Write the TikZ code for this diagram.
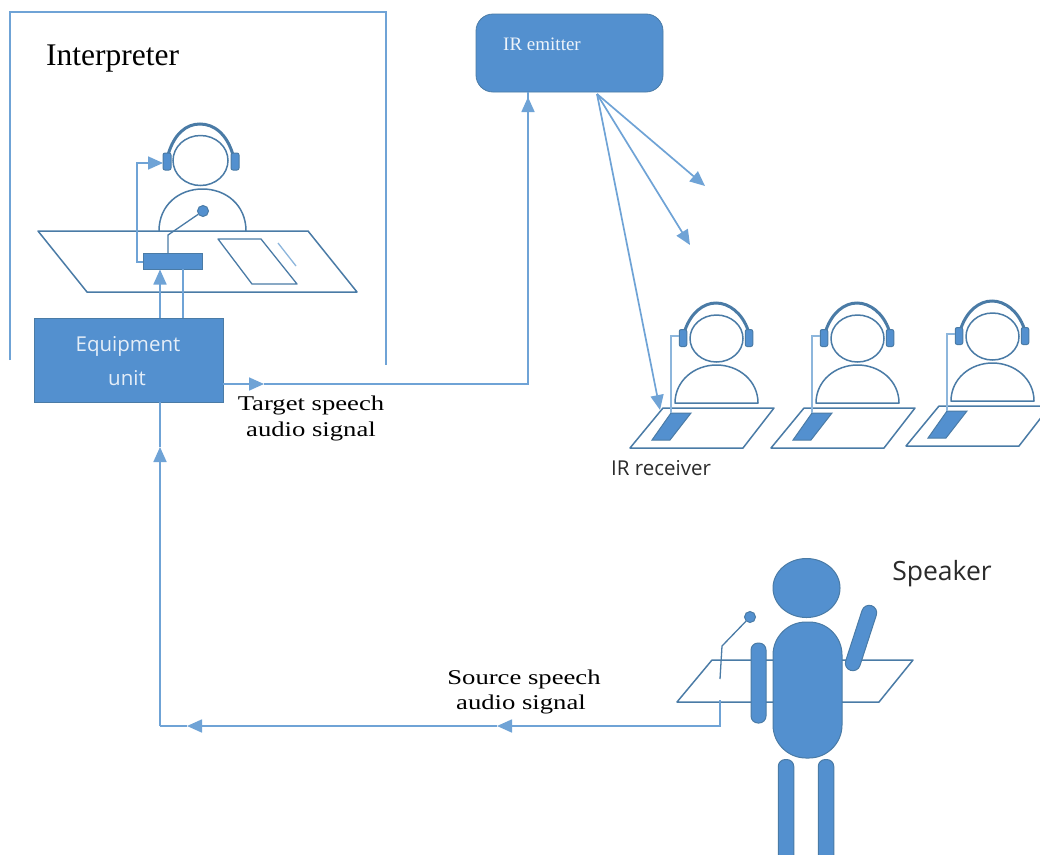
\documentclass[tikz,border=0pt]{standalone}
\usepackage{fontspec}
\setmainfont{Liberation Serif}
\newfontfamily\uifont{Open Sans}
\newfontfamily\widefont[FakeStretch=1.27]{Liberation Serif}
\usetikzlibrary{arrows.meta,calc,shapes.geometric}
\definecolor{bluefill}{HTML}{5390CF}
\definecolor{outl}{HTML}{4A7BA6}
\definecolor{wire}{HTML}{6FA3D6}
\definecolor{palewire}{HTML}{8DB6DC}
\definecolor{graytext}{HTML}{2B2B2B}
\tikzset{
  line/.style={draw=outl,line width=1.5pt,line join=round},
  wireline/.style={draw=wire,line width=1.7pt},
  palewireline/.style={draw=palewire,line width=2.2pt},
  tipped/.style={-{Triangle[length=15pt,width=13pt,fill=wire]}},
  solidblue/.style={fill=bluefill,draw=outl,line width=1pt},
  serifl/.style={font=\widefont\fontsize{21}{21}\selectfont,text=black,inner sep=0pt},
  uil/.style={font=\uifont\fontsize{#1}{#1}\selectfont,text=graytext,inner sep=0pt},
}
\begin{document}
\begin{tikzpicture}[x=1pt,y=-1pt]
\useasboundingbox[fill=white] (0,0) rectangle (1040,854);

% interpreter room
\coordinate (rbl) at (10,360); \coordinate (rtl) at (10,12);
\coordinate (rtr) at (386,12); \coordinate (rbr) at (386,365);
\draw[wireline] (rbl) -- (rtl) -- (rtr) -- (rbr);
\node[anchor=base west,inner sep=0pt,font=\fontsize{31.5}{32}\selectfont] (interp) at (46,65) {Interpreter};

% interpreter desk
\draw[line] (38,231) -- (308,231) -- (357,292) -- (87,292) -- cycle;
\draw[line,line width=1.3pt] (218,239) -- (261,239) -- (297,284) -- (252,284) -- cycle;
\coordinate (pa) at (278,243); \coordinate (pb) at (296,266);
\draw[draw=palewire,line width=1.3pt] (pa) -- (pb);

% interpreter figure
\draw[line] (159,231) .. controls (159,205) and (179,189) .. (202.5,189) .. controls (226,189) and (246,205) .. (246,231);
\node[ellipse,draw=outl,line width=1.5pt,minimum width=55pt,minimum height=50pt,inner sep=0pt,fill=white] (ihead) at (200.5,160.5) {};
\draw[draw=outl,line width=3pt] (168,155) .. controls (174,134) and (186,124) .. (200,124) .. controls (214,124) and (227,134) .. (233,155);
\node[solidblue,rounded corners=2pt,minimum width=8pt,minimum height=17pt,inner sep=0pt] (icupl) at (167,161.5) {};
\node[solidblue,rounded corners=2pt,minimum width=8pt,minimum height=17pt,inner sep=0pt] (icupr) at (235,161.5) {};
\node[solidblue,minimum width=59pt,minimum height=16pt,inner sep=0pt] (iunit) at (172.5,261) {};
\coordinate (imicb) at (168,253); \coordinate (imicm) at (168,235);
\node[circle,solidblue,minimum size=11pt,inner sep=0pt] (imic) at (203,211) {};
\draw[line,line width=1.3pt] (imicb) -- (imicm) -- (imic);
% equipment unit
\node[fill=bluefill,draw=outl,line width=.8pt,minimum width=189pt,minimum height=84pt,inner sep=0pt] (equip) at (128.5,360) {};
\node[uil=20.5,text=white!85!bluefill] (eqa) at (128,346) {Equipment};
\node[uil=20.5,text=white!85!bluefill] (eqb) at (127,378) {unit};

% connections around interpreter
\coordinate (wa) at (137,262); \coordinate (wb) at (137,163); \coordinate (wc) at (163,163);
\draw[wireline,tipped] (iunit.west |- wa) -- (wa) -- (wb) -- (wc);
\coordinate (ua) at (160,318); \coordinate (ub) at (160,269.5);
\draw[wireline,tipped] (ua) -- (ub);
\coordinate (ta) at (183,318); \coordinate (tb) at (183,269);
\draw[wireline] (ta) -- (tb);

% IR emitter
\node[fill=bluefill,draw=outl,line width=.8pt,rounded corners=17pt,minimum width=187pt,minimum height=78pt,inner sep=0pt] (emit) at (569.5,53) {};
\node[inner sep=0pt,font=\fontsize{19}{19}\selectfont,text=white!90!bluefill] (emitl) at (542,44) {IR emitter};

% equipment -> emitter
\coordinate (oa) at (223,384); \coordinate (ob) at (264,384);
\coordinate (oc) at (528,384); \coordinate (od) at (528,97);
\draw[wireline,tipped] (oa) -- (ob);
\draw[wireline] (ob) -- (oc) -- (528,92);
\draw[wireline,tipped] (oc) -- (od);

% IR rays
\coordinate (src) at (597,94);
\coordinate (r1) at (705,186); \coordinate (r2) at (690,245); \coordinate (r3) at (660,410);
\draw[wireline,tipped] (src) -- (r1);
\draw[wireline,tipped] (src) -- (r2);
\draw[wireline,tipped] (src) -- (r3);

% listeners
\foreach \i/\dx/\dy in {1/0/0,2/141/0,3/276/-2}{
\begin{scope}[shift={(\dx,\dy)}]
  \draw[line] (675,403) .. controls (675,381) and (694,365) .. (716.5,365) .. controls (739,365) and (758,381) .. (758,403) -- cycle;
  \draw[line] (663,408) -- (774,408) -- (743,448) -- (630,448) -- cycle;
  \draw[solidblue] (671,413) -- (691,413) -- (670,440) -- (652,440) -- cycle;
  \node[ellipse,draw=outl,line width=1.5pt,minimum width=53pt,minimum height=47pt,inner sep=0pt] (head\i) at (716.5,338.5) {};
  \draw[draw=outl,line width=3pt] (685,330) .. controls (691,313) and (703,303) .. (716,303) .. controls (729,303) and (742,313) .. (748,330);
  \node[solidblue,rounded corners=2pt,minimum width=7.5pt,minimum height=17pt,inner sep=0pt] (cupl\i) at (683,338) {};
  \node[solidblue,rounded corners=2pt,minimum width=7.5pt,minimum height=17pt,inner sep=0pt] (cupr\i) at (749,338) {};
  \coordinate (lw\i) at (671,336); \coordinate (lb\i) at (671,413);
  \draw[palewireline] (cupl\i.west |- lw\i) -- (lw\i) -- (lb\i);
\end{scope}}
\node[anchor=base,uil=20.5] (irr) at (661,475) {IR receiver};

% speaker
\draw[line] (712,660) -- (913,660) -- (879,702) -- (677,702) -- cycle;
\node[circle,solidblue,minimum size=11pt,inner sep=0pt] (smic) at (750,617) {};
\coordinate (sma) at (722,646); \coordinate (smb) at (720,679);
\draw[line,line width=1.3pt] (smic) -- (sma) -- (smb);
\node[ellipse,solidblue,minimum width=67pt,minimum height=59pt,inner sep=0pt] (shead) at (806.5,588) {};
\node[solidblue,rounded corners=33pt,minimum width=69pt,minimum height=136pt,inner sep=0pt] (storso) at (807.5,690) {};
\node[solidblue,rounded corners=7pt,minimum width=15pt,minimum height=80pt,inner sep=0pt] (sarml) at (758.5,683) {};
\node[solidblue,rounded corners=7.5pt,minimum width=15pt,minimum height=68pt,inner sep=0pt,rotate=-18] (sarmr) at (861,638) {};
\node[solidblue,rounded corners=7pt,anchor=north,minimum width=15.5pt,minimum height=110pt,inner sep=0pt] (slegl) at (786,759) {};
\node[solidblue,rounded corners=7pt,anchor=north,minimum width=15.5pt,minimum height=110pt,inner sep=0pt] (slegr) at (826,759) {};
\node[anchor=base,uil=26.5] (spk) at (942,580) {Speaker};

% source signal
\coordinate (sa) at (720,700); \coordinate (sb) at (720,726); \coordinate (sc) at (497,726);
\coordinate (sd) at (187,726); \coordinate (se) at (160,726); \coordinate (sf) at (160,447);
\draw[wireline,tipped] (sa) -- (sb) -- (sc);
\draw[wireline,tipped] (sc) -- (sd);
\draw[wireline] (sd) -- (se);
\draw[wireline,tipped] (se) -- (sf);
\draw[wireline] (sf) -- (equip.south -| sf);

% labels
\node[serifl] (t1) at (311,405) {Target speech};
\node[serifl] (t2) at (311,431) {audio signal};
\node[serifl] (s1) at (524,679) {Source speech};
\node[serifl] (s2) at (521,704) {audio signal};
\end{tikzpicture}
\end{document}
